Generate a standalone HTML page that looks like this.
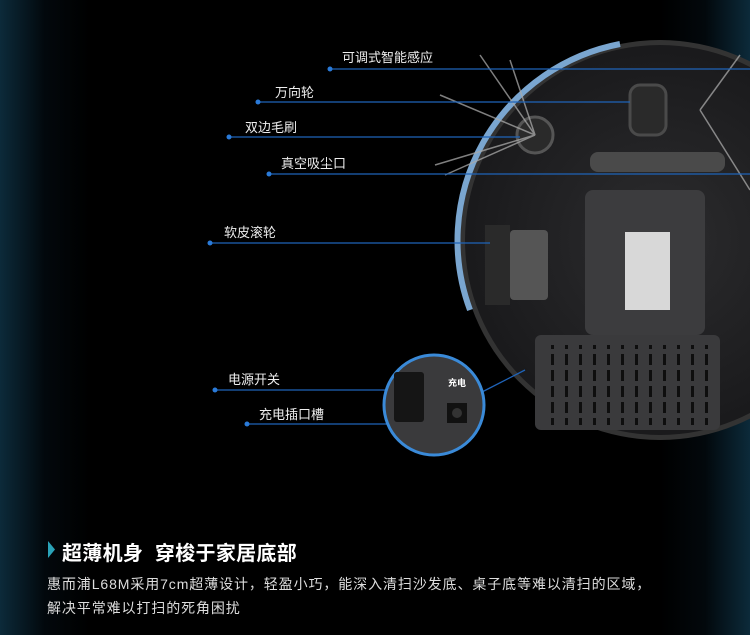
<!DOCTYPE html>
<html><head><meta charset="utf-8"><style>
html,body{margin:0;padding:0;background:#000;}
#w{position:relative;width:750px;height:635px;overflow:hidden;background:linear-gradient(90deg,#0c2a3a 0,#02080c 45px,#000 90px,#000 660px,#02080c 705px,#0c2a3a 750px);font-family:"Liberation Sans","Noto Sans CJK SC",sans-serif;color:#e8e8e8;}
.l{position:absolute;font-size:13px;color:#eee;}
svg{position:absolute;left:0;top:0;}
</style></head><body><div id="w">
<svg width="750" height="635">
<defs><radialGradient id="g" cx="0.5" cy="0.5" r="0.6"><stop offset="0" stop-color="#2c2c2e"/><stop offset="1" stop-color="#161618"/></radialGradient>
<pattern id="v" width="14" height="16" patternUnits="userSpaceOnUse"><rect x="5" y="2" width="3" height="11" fill="#0e0e0e"/></pattern></defs>
<circle cx="660" cy="240" r="200" fill="#333"/>
<path d="M 470 310 A 200 200 0 0 1 620 44" fill="none" stroke="#7aa6d0" stroke-width="6"/>
<circle cx="660" cy="240" r="195" fill="url(#g)"/>
<rect x="585" y="190" width="120" height="145" rx="8" fill="#3c3c3e"/>
<rect x="625" y="232" width="45" height="78" fill="#d8d8d8"/>
<rect x="535" y="335" width="185" height="95" rx="6" fill="#3a3a3c"/>
<rect x="545" y="345" width="165" height="80" fill="url(#v)"/>
<rect x="590" y="152" width="135" height="20" rx="8" fill="#4a4a4a"/>
<rect x="485" y="225" width="25" height="80" fill="#2a2a2a"/>
<rect x="510" y="230" width="38" height="70" rx="4" fill="#555"/>
<circle cx="535" cy="135" r="18" fill="#2a2a2a" stroke="#555" stroke-width="3"/>
<rect x="630" y="85" width="36" height="50" rx="10" fill="#2a2a2a" stroke="#4a4a4a" stroke-width="3"/>
<g stroke="#aaa" stroke-width="1.5" opacity="0.75">
<line x1="535" y1="135" x2="440" y2="95"/><line x1="535" y1="135" x2="480" y2="55"/><line x1="535" y1="135" x2="435" y2="165"/><line x1="535" y1="135" x2="510" y2="60"/><line x1="535" y1="135" x2="445" y2="175"/>
<line x1="700" y1="110" x2="740" y2="55"/><line x1="700" y1="110" x2="750" y2="190"/>
</g>
<g stroke="#1f63b8" stroke-width="1.3">
<line x1="330" y1="69" x2="750" y2="69"/>
<line x1="258" y1="102" x2="630" y2="102"/>
<line x1="229" y1="137" x2="520" y2="137"/>
<line x1="269" y1="174" x2="750" y2="174"/>
<line x1="210" y1="243" x2="490" y2="243"/>
<line x1="215" y1="390" x2="408" y2="390"/>
<line x1="247" y1="424" x2="458" y2="424"/>
<line x1="482" y1="392" x2="525" y2="370"/>
</g>
<g fill="#2a7ad8"><circle cx="330" cy="69" r="2.5"/><circle cx="258" cy="102" r="2.5"/><circle cx="229" cy="137" r="2.5"/><circle cx="269" cy="174" r="2.5"/><circle cx="210" cy="243" r="2.5"/><circle cx="215" cy="390" r="2.5"/><circle cx="247" cy="424" r="2.5"/></g>
<circle cx="434" cy="405" r="50" fill="#3a3a3c" stroke="#3a8ad8" stroke-width="3"/>
<rect x="394" y="372" width="30" height="50" rx="3" fill="#151515"/>
<rect x="447" y="403" width="20" height="20" fill="#111"/>
<circle cx="457" cy="413" r="5" fill="#333"/>
<text x="448" y="386" font-size="9" fill="#fff" font-family="Liberation Sans,Noto Sans CJK SC,sans-serif" font-weight="bold">充电</text>
<path d="M48 541 L55 549.5 L48 558 Z" fill="#2aa3b8"/>
</svg>
<div class="l" style="left:342px;top:47px">可调式智能感应</div>
<div class="l" style="left:275px;top:82px">万向轮</div>
<div class="l" style="left:245px;top:117px">双边毛刷</div>
<div class="l" style="left:281px;top:153px">真空吸尘口</div>
<div class="l" style="left:224px;top:222px">软皮滚轮</div>
<div class="l" style="left:228px;top:369px">电源开关</div>
<div class="l" style="left:259px;top:404px">充电插口槽</div>
<div style="position:absolute;left:62px;top:537px;font-size:20px;font-weight:bold;color:#fff;white-space:pre;letter-spacing:0.3px">超薄机身  穿梭于家居底部</div>
<div style="position:absolute;left:47px;top:572px;font-size:14px;color:#ddd;line-height:24px;letter-spacing:0.9px;white-space:nowrap">惠而浦L68M采用7cm超薄设计，轻盈小巧，能深入清扫沙发底、桌子底等难以清扫的区域，<br>解决平常难以打扫的死角困扰</div>
</div></body></html>
